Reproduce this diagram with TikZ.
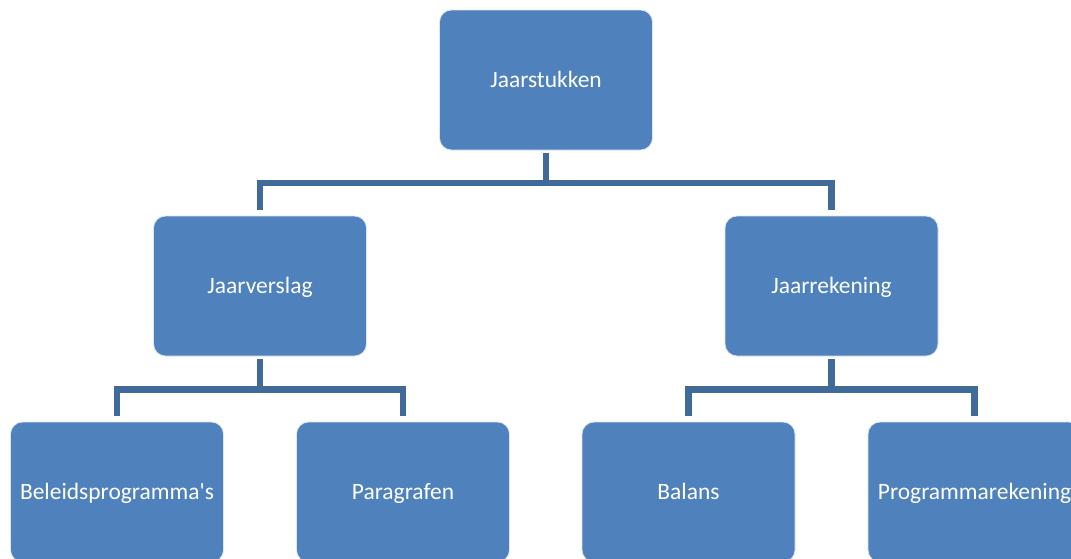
\documentclass[tikz,border=0pt]{standalone}
\usepackage{fontspec}
\setmainfont{Carlito}
\usetikzlibrary{calc}
\definecolor{boxblue}{HTML}{4F81BD}
\definecolor{linkblue}{HTML}{3F6A9A}

\begin{document}
\begin{tikzpicture}[x=0.75pt, y=-0.75pt,
  blok/.style={rectangle, rounded corners=9pt, fill=boxblue, draw=white!80!boxblue,
    line width=0.6pt, minimum width=159.75pt, minimum height=105pt, inner sep=0pt,
    text height=14pt, text depth=3.5pt,
    text=white, font=\fontsize{17.6}{20}\selectfont},
  tak/.style={draw=linkblue, line width=4.8pt}]
  % kader van het plaatje
  \useasboundingbox (0,0) rectangle (1071,558);
  \clip (0,0) rectangle (1071,558);

  % niveau 1
  \node[blok] (stuk) at (546,80) {Jaarstukken};

  % niveau 2
  \node[blok] (verslag)  at (260,286)   {Jaarverslag};
  \node[blok] (rekening) at (831.5,286) {Jaarrekening};

  % niveau 3
  \node[blok] (beleid) at (117,492)   {Beleidsprogramma\textquotesingle s};
  \node[blok] (parag)  at (403,492)   {Paragrafen};
  \node[blok] (balans) at (688.5,492) {Balans};
  \node[blok] (prog)   at (974.5,492) {Programmarekening};

  % verbindingen
  \foreach \k in {verslag,rekening}
    \draw[tak] ([yshift=-2.25pt]stuk.south) -- ++(0,29.5) -| ([yshift=4.5pt]\k.north);
  \foreach \k in {beleid,parag}
    \draw[tak] ([yshift=-2.25pt]verslag.south) -- ++(0,30) -| ([yshift=4.5pt]\k.north);
  \foreach \k in {balans,prog}
    \draw[tak] ([yshift=-2.25pt]rekening.south) -- ++(0,30) -| ([yshift=4.5pt]\k.north);
\end{tikzpicture}
\end{document}
